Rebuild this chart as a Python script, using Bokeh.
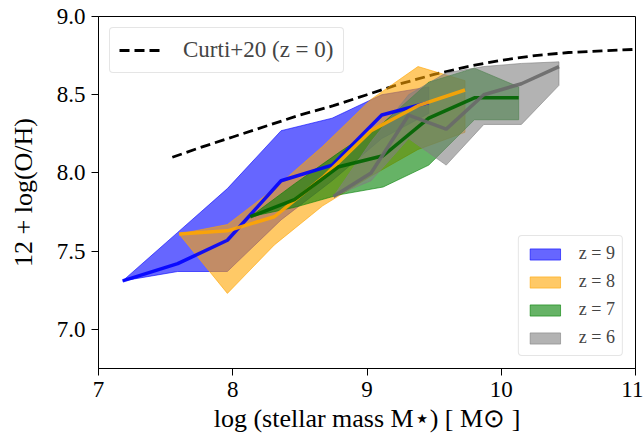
import numpy as np
from bokeh.plotting import figure
from bokeh.models import (Legend, LegendItem, Range1d, FixedTicker,
                          PrintfTickFormatter)
from bokeh.embed import file_html
from bokeh.resources import INLINE

# ---------------- data ----------------
curti_x = [7.55, 7.75, 8.0, 8.25, 8.5, 8.75, 9.0, 9.25, 9.5, 9.75, 10.0, 10.25, 10.5, 10.75, 11.0]
curti_y = [8.10, 8.16, 8.23, 8.30, 8.37, 8.43, 8.50, 8.57, 8.63, 8.68, 8.72, 8.75, 8.77, 8.78, 8.79]

z9_x = [7.18, 7.59, 7.96, 8.36, 8.74, 9.11, 9.46]
z9_med = [7.31, 7.42, 7.57, 7.95, 8.05, 8.37, 8.45]
z9_lo = [7.31, 7.37, 7.37, 7.70, 7.95, 8.22, 8.38]
z9_hi = [7.31, 7.62, 7.90, 8.27, 8.35, 8.50, 8.55]

z8_x = [7.60, 7.96, 8.31, 8.67, 9.03, 9.38, 9.73]
z8_med = [7.61, 7.63, 7.72, 7.97, 8.27, 8.43, 8.53]
z8_lo = [7.61, 7.23, 7.54, 7.79, 7.98, 8.15, 8.26]
z8_hi = [7.61, 7.67, 7.90, 8.17, 8.47, 8.68, 8.59]

z7_x = [8.13, 8.46, 8.79, 9.12, 9.46, 9.80, 10.13]
z7_med = [7.72, 7.83, 8.04, 8.11, 8.35, 8.48, 8.48]
z7_lo = [7.72, 7.78, 7.86, 7.91, 8.05, 8.34, 8.34]
z7_hi = [7.72, 7.93, 8.13, 8.32, 8.58, 8.67, 8.55]

z6_x = [8.75, 9.03, 9.31, 9.59, 9.87, 10.15, 10.43]
z6_med = [7.85, 8.00, 8.37, 8.28, 8.50, 8.57, 8.68]
z6_lo = [7.85, 7.95, 8.22, 8.05, 8.31, 8.31, 8.56]
z6_hi = [7.85, 8.20, 8.50, 8.64, 8.68, 8.70, 8.71]

x_ticks = [7, 8, 9, 10, 11]
y_ticks = [7.0, 7.5, 8.0, 8.5, 9.0]

series = [
    ("z = 9", z9_x, z9_med, z9_lo, z9_hi, "blue", "blue"),
    ("z = 8", z8_x, z8_med, z8_lo, z8_hi, "orange", "orange"),
    ("z = 7", z7_x, z7_med, z7_lo, z7_hi, "green", "darkgreen"),
    ("z = 6", z6_x, z6_med, z6_lo, z6_hi, "gray", "dimgray"),
]

FONT = "Liberation Serif"

p = figure(width=643, height=435, output_backend="svg", toolbar_location=None,
           x_range=Range1d(7, 11), y_range=Range1d(6.75, 9.0),
           min_border_left=98, min_border_right=8, min_border_top=16, min_border_bottom=65)
p.background_fill_color = "white"
p.border_fill_color = "white"
p.grid.visible = False
p.outline_line_color = "black"
p.outline_line_width = 1

curti_r = p.line(curti_x, curti_y, line_color="black", line_width=2.8, line_dash="10 5")

band_items = []
for label, xs, med, lo, hi, fc, lc in series:
    poly_x = list(xs) + list(xs)[::-1]
    poly_y = list(lo) + list(hi)[::-1]
    pr = p.patch(poly_x, poly_y, fill_color=fc, fill_alpha=0.6,
                 line_color=fc, line_alpha=0.6, line_width=1)
    band_items.append(LegendItem(label=label, renderers=[pr]))
for label, xs, med, lo, hi, fc, lc in series:
    p.line(xs, med, line_color=lc, line_width=3.5, line_alpha=0.9)

# axes
for ax in (p.xaxis[0], p.yaxis[0]):
    ax.axis_line_color = "black"
    ax.major_tick_line_color = "black"
    ax.major_tick_out = 7
    ax.major_tick_in = 0
    ax.minor_tick_line_color = None
    ax.major_label_text_font = FONT
    ax.major_label_text_font_size = "23px"
    ax.major_label_text_color = "black"
    ax.major_label_standoff = 6
    ax.axis_label_text_font = FONT
    ax.axis_label_text_font_size = "26px"
    ax.axis_label_text_font_style = "normal"
    ax.axis_label_text_color = "black"

p.xaxis.ticker = FixedTicker(ticks=x_ticks)
p.yaxis.ticker = FixedTicker(ticks=y_ticks)
p.yaxis.formatter = PrintfTickFormatter(format="%.1f")

p.yaxis.axis_label = "12 + log(O/H)"
p.yaxis.axis_label_standoff = 16
p.xaxis.axis_label = "log (stellar mass M\u22c6) [ M\u2299 ]"
p.xaxis.axis_label_standoff = 4

leg1 = Legend(items=[LegendItem(label="Curti+20 (z = 0)", renderers=[curti_r])],
              location="top_left", margin=11, padding=9, glyph_width=44, glyph_height=20,
              label_height=20, label_standoff=20, label_text_font=FONT,
              label_text_font_size="23px", border_line_color="#cccccc",
              border_line_width=1, background_fill_alpha=0.8)
leg2 = Legend(items=band_items, location="bottom_right", margin=12, padding=7,
              spacing=7, glyph_width=38, glyph_height=14, label_height=20,
              label_standoff=15, label_text_font=FONT, label_text_font_size="18px",
              border_line_color="#cccccc", border_line_width=1, background_fill_alpha=0.8)
for lg in (leg1, leg2):
    if "border_radius" in lg.properties():
        lg.border_radius = 4
    p.add_layout(lg)

open("out.html", "w").write(file_html(p, INLINE))
